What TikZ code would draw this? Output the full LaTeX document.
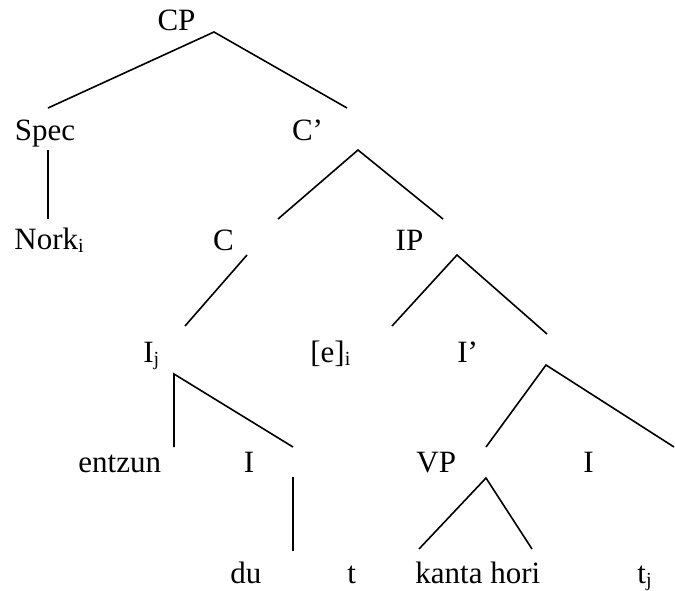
\documentclass[tikz,border=0pt]{standalone}
\usepackage{fontspec}
\setmainfont{Liberation Serif}
\newcommand\sbsc[1]{\raisebox{-1.5pt}{\fontsize{10}{12}\selectfont #1}}
\begin{document}
\begin{tikzpicture}[x=0.5pt,y=-0.5pt,
  lbl/.style={inner sep=0pt,font=\fontsize{15.5}{18}\selectfont},
  branch/.style={line width=0.8pt,line cap=butt}]
\useasboundingbox (0,0) rectangle (675,590);
% labels
\node[lbl,anchor=base] (cp) at (176.5,30) {CP};
\node[lbl,anchor=base] (spec) at (45,140) {Spec};
\node[lbl,anchor=base] (cbar) at (307.5,140) {C’};
\node[lbl,anchor=base west] (nork) at (14,249) {Nork\sbsc{i}};
\node[lbl,anchor=base] (c) at (223.5,250) {C};
\node[lbl,anchor=base] (ip) at (409.5,250) {IP};
\node[lbl,anchor=base west] (ij) at (143,362) {I\sbsc{j}};
\node[lbl,anchor=base west] (e) at (310,362) {[e]\sbsc{i}};
\node[lbl,anchor=base west] (ibar) at (457,362) {I’};
\node[lbl,anchor=base west] (entzun) at (78,472) {entzun};
\node[lbl,anchor=base] (ia) at (249,472) {I};
\node[lbl,anchor=base west] (vp) at (416,472) {VP};
\node[lbl,anchor=base] (ib) at (588.5,472) {I};
\node[lbl,anchor=base west] (du) at (230,583) {du};
\node[lbl,anchor=base west] (t) at (347,583) {t};
\node[lbl,anchor=base west] (kanta) at (415,583) {kanta hori};
\node[lbl,anchor=base west] (tj) at (637,583) {t\sbsc{j}};
% branch end points
\coordinate (a1) at (214,32);   \coordinate (a1l) at (48,108);  \coordinate (a1r) at (347,108);
\coordinate (a2) at (48,150);   \coordinate (a2b) at (48,219);
\coordinate (a3) at (358,150);  \coordinate (a3l) at (278,219); \coordinate (a3r) at (443,219);
\coordinate (a4) at (247,255);  \coordinate (a4b) at (185,326);
\coordinate (a5) at (457,255);  \coordinate (a5l) at (392,326); \coordinate (a5r) at (547,334);
\coordinate (a6) at (174,374);  \coordinate (a6l) at (174,447); \coordinate (a6r) at (293,447);
\coordinate (a7) at (293,477);  \coordinate (a7b) at (293,551);
\coordinate (a8) at (546,365);  \coordinate (a8l) at (486,447); \coordinate (a8r) at (674,447);
\coordinate (a9) at (486,478);  \coordinate (a9l) at (419,549); \coordinate (a9r) at (532,549);
% branches
\draw[branch] (a1l) -- (a1) -- (a1r);
\draw[branch] (a2) -- (a2b);
\draw[branch] (a3l) -- (a3) -- (a3r);
\draw[branch] (a4) -- (a4b);
\draw[branch] (a5l) -- (a5) -- (a5r);
\draw[branch] (a6l) -- (a6) -- (a6r);
\draw[branch] (a7) -- (a7b);
\draw[branch] (a8l) -- (a8) -- (a8r);
\draw[branch] (a9l) -- (a9) -- (a9r);
\end{tikzpicture}
\end{document}
